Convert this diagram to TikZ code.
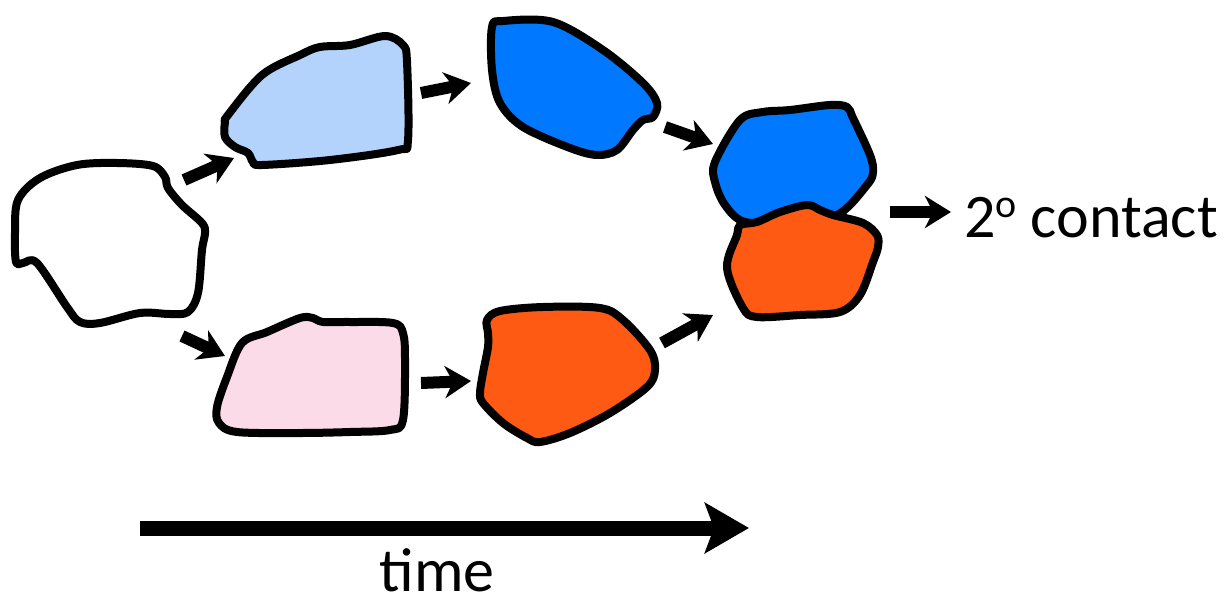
\documentclass[tikz,border=0pt]{standalone}
\usepackage{fontspec}
\setmainfont{Carlito}
\usetikzlibrary{arrows.meta}
\definecolor{lblue}{HTML}{B3D3FD}
\definecolor{dblue}{HTML}{0078FF}
\definecolor{dorange}{HTML}{FF5A14}
\definecolor{lpink}{HTML}{FADBE7}
\tikzset{
  blob/.style={draw=black, line width=8pt, line join=round},
  stub/.style={line width=12pt, -{Stealth[length=26pt, width=32pt, inset=8pt]}},
  timearrow/.style={line width=15pt, -{Stealth[length=44pt, width=50pt, inset=9pt]}},
  lbl/.style={font=\fontsize{62}{70}\selectfont, inner sep=0pt}
}
\begin{document}
\begin{tikzpicture}[x=1pt, y=-1pt]
\useasboundingbox (0,0) rectangle (1231,602);
% white blob
\draw[blob, fill=white] plot[smooth cycle, tension=0.55] coordinates {
 (18,200) (40,178) (77,165) (117,163) (153,166) (165,177) (168,188) (182,205)
 (202,223) (205,233) (202,250) (198,293) (188,312) (170,314) (140,313) (100,323)
 (80,322) (67,307) (37,263) (23,263) (16,262) (15,233)};
% light blue blob
\draw[blob, fill=lblue] plot[smooth cycle, tension=0.55] coordinates {
 (228,115) (262,75) (300,55) (320,47) (350,45) (385,36) (403,45) (407,62)
 (408,140) (398,150) (330,160) (262,165) (253,162) (248,153) (235,147) (225,137) (225,122)};
% dark blue top
\draw[blob, fill=dblue] plot[smooth cycle, tension=0.55] coordinates {
 (492,27) (503,21) (553,22) (603,50) (643,83) (657,103) (653,117) (643,120)
 (633,130) (617,150) (597,155) (570,148) (523,127) (500,103) (492,70)};
% pink blob
\draw[blob, fill=lpink] plot[smooth cycle, tension=0.55] coordinates {
 (242,343) (267,332) (300,318) (313,318) (323,322) (350,322) (393,323) (403,333)
 (405,360) (403,420) (390,430) (350,432) (300,433) (237,432) (219,423) (217,407) (227,377)};
% orange middle
\draw[blob, fill=dorange] plot[smooth cycle, tension=0.55] coordinates {
 (487,320) (500,311) (543,307) (600,308) (623,320) (650,350) (655,370) (647,387)
 (610,413) (570,433) (540,442) (527,438) (503,423) (483,403) (480,393) (483,373)
 (488,347) (488,333)};
% blue upper right
\draw[blob, fill=dblue] plot[smooth cycle, tension=0.55] coordinates {
 (715,162) (740,120) (763,112) (790,110) (830,105) (847,107) (853,118) (870,155)
 (873,172) (867,185) (837,215) (790,222) (745,222) (725,205) (715,182)};
% orange lower right
\draw[blob, fill=dorange] plot[smooth cycle, tension=0.55] coordinates {
 (740,225) (757,222) (780,212) (807,205) (820,210) (833,215) (863,223) (877,235)
 (878,247) (873,262) (860,295) (840,312) (800,315) (757,317) (743,308) (727,268) (737,235)};
% arrow coordinates
\coordinate (a1s) at (184,180); \coordinate (a1e) at (234,158);
\coordinate (a2s) at (182,336); \coordinate (a2e) at (225,356);
\coordinate (a3s) at (421,93);  \coordinate (a3e) at (471,83);
\coordinate (a4s) at (665,127); \coordinate (a4e) at (713,144);
\coordinate (a5s) at (421,383); \coordinate (a5e) at (471,381);
\coordinate (a6s) at (662,343); \coordinate (a6e) at (713,315);
\coordinate (a7s) at (890,212); \coordinate (a7e) at (951,212);
\coordinate (ts) at (140,528); \coordinate (te) at (749,528);
\draw[stub] (a1s) -- (a1e);
\draw[stub] (a2s) -- (a2e);
\draw[stub] (a3s) -- (a3e);
\draw[stub] (a4s) -- (a4e);
\draw[stub] (a5s) -- (a5e);
\draw[stub] (a6s) -- (a6e);
\draw[stub] (a7s) -- (a7e);
\draw[timearrow] (ts) -- (te);
\node[lbl, anchor=base west] (contact) at (964,237) {2{\fontsize{40}{40}\selectfont\raisebox{20pt}{o}} contact};
\node[lbl, anchor=base] (time) at (437,591) {time};
\end{tikzpicture}
\end{document}
